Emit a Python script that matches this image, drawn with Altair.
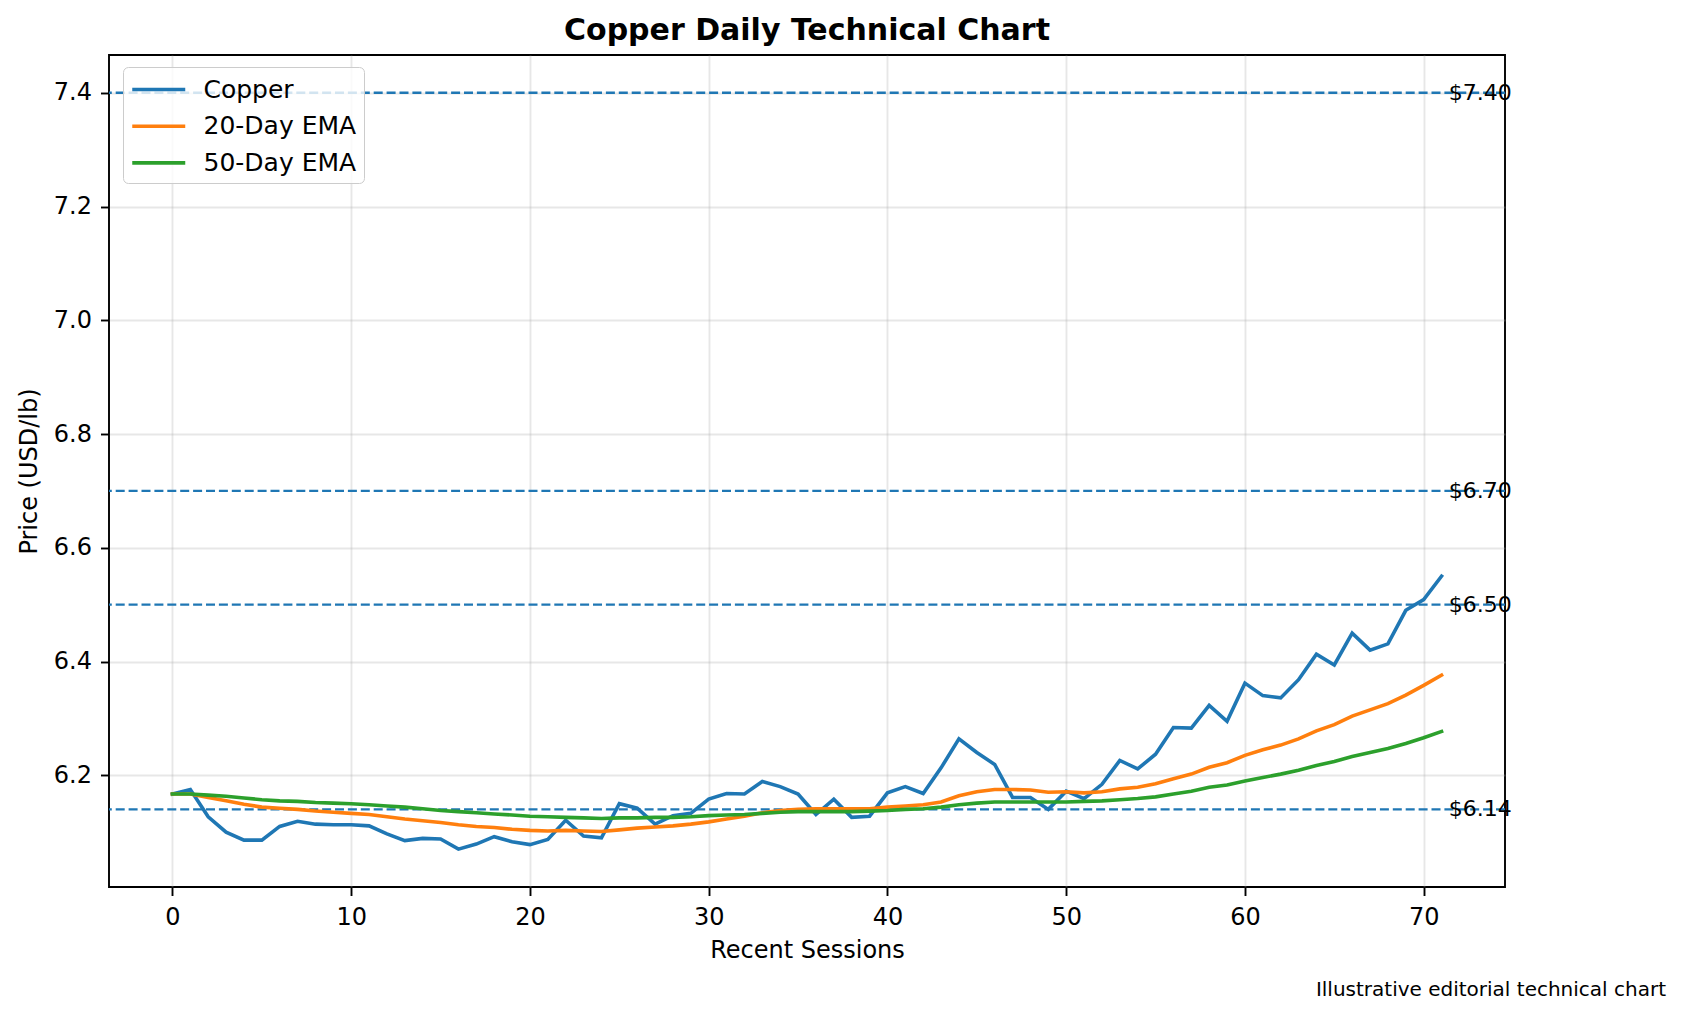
import altair as alt
import pandas as pd

sessions = list(range(72))

copper = [6.167, 6.175, 6.127, 6.100, 6.086, 6.086, 6.110, 6.119, 6.114, 6.113,
          6.113, 6.111, 6.097, 6.085, 6.089, 6.088, 6.070, 6.079, 6.092, 6.083,
          6.078, 6.087, 6.121, 6.093, 6.090, 6.150, 6.142, 6.114, 6.129, 6.133,
          6.158, 6.168, 6.167, 6.189, 6.180, 6.167, 6.131, 6.158, 6.126, 6.128,
          6.169, 6.180, 6.168, 6.213, 6.264, 6.240, 6.219, 6.161, 6.161, 6.140,
          6.172, 6.159, 6.184, 6.226, 6.211, 6.237, 6.284, 6.283, 6.323, 6.295,
          6.362, 6.340, 6.336, 6.368, 6.413, 6.394, 6.450, 6.420, 6.431, 6.490,
          6.509, 6.550]

ema20 = [6.167, 6.167, 6.161, 6.155, 6.149, 6.144, 6.142, 6.140, 6.137, 6.135,
         6.133, 6.131, 6.127, 6.123, 6.120, 6.117, 6.113, 6.110, 6.108, 6.105,
         6.103, 6.102, 6.103, 6.102, 6.101, 6.104, 6.107, 6.109, 6.111, 6.114,
         6.118, 6.123, 6.128, 6.134, 6.138, 6.140, 6.141, 6.141, 6.141, 6.141,
         6.144, 6.146, 6.148, 6.153, 6.164, 6.171, 6.175, 6.175, 6.174, 6.170,
         6.171, 6.169, 6.171, 6.176, 6.179, 6.185, 6.194, 6.202, 6.214, 6.222,
         6.235, 6.245, 6.253, 6.264, 6.278, 6.289, 6.304, 6.315, 6.326, 6.341,
         6.358, 6.376]

ema50 = [6.167, 6.167, 6.165, 6.163, 6.160, 6.157, 6.155, 6.154, 6.152, 6.151,
         6.150, 6.148, 6.146, 6.144, 6.141, 6.138, 6.136, 6.134, 6.132, 6.130,
         6.128, 6.127, 6.126, 6.125, 6.124, 6.125, 6.125, 6.126, 6.126, 6.127,
         6.129, 6.130, 6.131, 6.133, 6.135, 6.136, 6.136, 6.136, 6.136, 6.137,
         6.138, 6.140, 6.141, 6.144, 6.148, 6.151, 6.153, 6.153, 6.153, 6.153,
         6.153, 6.154, 6.155, 6.157, 6.159, 6.162, 6.167, 6.172, 6.179, 6.183,
         6.190, 6.196, 6.202, 6.209, 6.217, 6.224, 6.233, 6.240, 6.247, 6.256,
         6.266, 6.277]

series_names = ["Copper", "20-Day EMA", "50-Day EMA"]
series_colors = ["#1f77b4", "#ff7f0e", "#2ca02c"]

levels = [7.40, 6.70, 6.50, 6.14]
level_labels = ["$7.40", "$6.70", "$6.50", "$6.14"]
level_label_x = 71.4

x_ticks = [0, 10, 20, 30, 40, 50, 60, 70]
y_ticks = [6.2, 6.4, 6.6, 6.8, 7.0, 7.2, 7.4]

title_text = "Copper Daily Technical Chart"
footer_text = "Illustrative editorial technical chart"

FONT = "DejaVu Sans"

rows = []
for name, vals in zip(series_names, [copper, ema20, ema50]):
    for s, v in zip(sessions, vals):
        rows.append({"session": s, "price": v, "series": name})
df = pd.DataFrame(rows)

lev_df = pd.DataFrame({"level": levels, "label": level_labels,
                       "x": [level_label_x] * len(levels)})

x_scale = alt.Scale(domain=[-3.55, 74.55], nice=False, zero=False)
y_scale = alt.Scale(domain=[6.0035, 7.4665], nice=False, zero=False)

x_axis = alt.Axis(values=x_ticks, title="Recent Sessions", format="d",
                  grid=True, titleY=70, titleBaseline="alphabetic")
y_axis = alt.Axis(values=y_ticks, title="Price (USD/lb)", format=".1f",
                  grid=True, titleX=-72.5, titleY=416, titleAngle=270,
                  titleAlign="center", titleBaseline="alphabetic")

level_rules = alt.Chart(lev_df).mark_rule(
    color="#1f77b4", strokeWidth=2.4, strokeDash=[9, 3.9]
).encode(
    y=alt.Y("level:Q", scale=y_scale, axis=y_axis)
)

lines = alt.Chart(df).mark_line(strokeWidth=3.6, strokeCap="square").encode(
    x=alt.X("session:Q", scale=x_scale, axis=x_axis),
    y=alt.Y("price:Q", scale=y_scale, axis=y_axis),
    color=alt.Color(
        "series:N",
        scale=alt.Scale(domain=series_names, range=series_colors),
        sort=series_names,
        legend=alt.Legend(
            title=None, orient="none", legendX=14, legendY=12,
            symbolType="M-1,0H3", symbolSize=702, symbolStrokeWidth=3.6,
            labelFontSize=25, labelFont=FONT, labelColor="black",
            labelOffset=42.5, padding=7, rowPadding=7.7,
            fillColor="rgba(255,255,255,0.8)", strokeColor="#cccccc",
            cornerRadius=5,
        ),
    ),
    detail="series:N",
)

level_text = alt.Chart(lev_df).mark_text(
    align="left", baseline="middle", fontSize=22, font=FONT, color="black"
).encode(
    x=alt.X("x:Q", scale=x_scale),
    y=alt.Y("level:Q", scale=y_scale),
    text="label:N",
)

title = alt.Chart(pd.DataFrame({"t": [title_text]})).mark_text(
    align="center", baseline="alphabetic", fontSize=30, font=FONT,
    fontWeight="bold", color="black"
).encode(
    x=alt.value(698), y=alt.value(-15), text="t:N"
)

footer = alt.Chart(pd.DataFrame({"t": [footer_text]})).mark_text(
    align="right", baseline="alphabetic", fontSize=20, font=FONT, color="black"
).encode(
    x=alt.value(1557), y=alt.value(941), text="t:N"
)

chart = alt.layer(level_rules, lines, level_text, title, footer).properties(
    width=1396, height=832,
    padding={"left": 101, "top": 47, "right": 171, "bottom": 115},
    autosize=alt.AutoSizeParams(type="none"),
).configure_view(
    stroke="black", strokeWidth=1.9
).configure_axis(
    domain=False, tickColor="black", tickSize=8.5, tickWidth=1.9,
    labelFont=FONT, labelFontSize=24, labelColor="black", labelPadding=10,
    titleFont=FONT, titleFontSize=24, titleFontWeight="normal", titleColor="black",
    gridColor="#b0b0b0", gridOpacity=0.3, gridWidth=1.9,
).configure_axisY(
    labelPadding=9
)

chart.save("out.html", embed_options={"renderer": "svg", "actions": False})
